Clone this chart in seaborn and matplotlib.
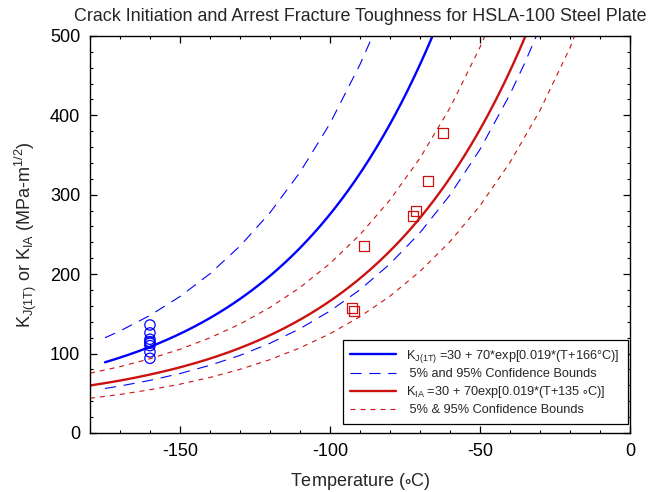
import numpy as np
import pandas as pd
import matplotlib
matplotlib.use("Agg")
import matplotlib.pyplot as plt
from matplotlib.ticker import MultipleLocator
import seaborn as sns

# Fitted toughness curves: K = A + B*exp[C*(T - T0)]
curve_a = 30
curve_b = 70
curve_c = 0.019
t0_initiation = -166   # K_J(1T)
t0_arrest = -135       # K_IA

# Initiation toughness results, K_J(1T), all at -160 C
kj_temp = [-160, -160, -160, -160, -160, -160, -160, -160]
kj_values = [136, 126, 118, 115, 113, 110, 102, 94]

# Arrest toughness results, K_IA
kia_temp = [-62.3, -67.4, -71.4, -72.3, -88.6, -92.6, -91.9]
kia_values = [377.5, 317, 279.6, 273.3, 235.5, 157, 154]

# 5% / 95% confidence bounds on the initiation curve
kj_upper_temp = [-175, -170, -160, -150, -140, -130, -120, -110, -100, -90, -85]
kj_upper = [119.9, 128.4, 148.0, 171.8, 200.5, 235.3, 277.3, 328.1, 389.5, 463.8, 506.5]
kj_lower_temp = [-175, -170, -160, -150, -140, -130, -120, -110, -100, -90, -80,
                 -70, -60, -50, -40, -35, -30]
kj_lower = [56.0, 59.1, 66.2, 74.8, 85.2, 97.7, 112.9, 131.3, 153.5, 180.3, 212.8,
            252.0, 299.5, 356.8, 426.2, 466.2, 510.2]

# 5% / 95% confidence bounds on the arrest curve
kia_upper_temp = [-180, -170, -160, -150, -140, -130, -120, -110, -100, -90, -80,
                  -70, -60, -50, -45]
kia_upper = [75.2, 83.5, 93.4, 105.4, 119.8, 137.1, 158.0, 183.1, 213.3, 249.6, 293.3,
             345.9, 409.2, 485.4, 529.1]
kia_lower_temp = [-180, -170, -160, -150, -140, -130, -120, -110, -100, -90, -80,
                  -70, -60, -50, -40, -30, -20, -10]
kia_lower = [43.7, 48.5, 54.4, 61.4, 69.9, 80.1, 92.3, 107.1, 124.9, 146.4, 172.2,
             203.4, 240.8, 286.0, 340.4, 405.9, 484.7, 579.8]

# Axis ticks and legend text
x_ticks = [-150, -100, -50, 0]
y_ticks = [0, 100, 200, 300, 400, 500]
legend_labels = [
    r"K$_{J(1T)}$ =30 + 70*exp[0.019*(T+166°C)]",
    " 5% and 95% Confidence Bounds",
    r"K$_{IA}$ =30 + 70exp[0.019*(T+135 $\circ$C)]",
    " 5% & 95% Confidence Bounds",
]

sns.set_style("ticks")
plt.rcParams["font.family"] = ["Liberation Sans", "DejaVu Sans"]
plt.rcParams["mathtext.default"] = "regular"
plt.rcParams["mathtext.fontset"] = "custom"
plt.rcParams["mathtext.rm"] = "Liberation Sans"
plt.rcParams["axes.unicode_minus"] = False

BLUE = "#0000ff"
RED = "#cc1111"

fig = plt.figure(figsize=(6.52, 4.92), dpi=100)
ax = fig.add_axes([0.138, 0.120, 0.828, 0.807])

# Median curves evaluated from the stated equation
t_init = np.linspace(-175, -60, 300)
k_init = curve_a + curve_b * np.exp(curve_c * (t_init - t0_initiation))
t_arr = np.linspace(-180, -30, 300)
k_arr = curve_a + curve_b * np.exp(curve_c * (t_arr - t0_arrest))

dash_long = (0, (10, 7))
dash_short = (0, (4.5, 4.5))

sns.lineplot(x=t_init, y=k_init, color=BLUE, lw=1.7, ax=ax)
h_kj = ax.lines[-1]
sns.lineplot(x=kj_upper_temp, y=kj_upper, color=BLUE, lw=0.8, linestyle=dash_long, ax=ax)
h_kj_b = ax.lines[-1]
sns.lineplot(x=kj_lower_temp, y=kj_lower, color=BLUE, lw=0.8, linestyle=dash_long, ax=ax)

sns.lineplot(x=t_arr, y=k_arr, color=RED, lw=1.7, ax=ax)
h_kia = ax.lines[-1]
sns.lineplot(x=kia_upper_temp, y=kia_upper, color=RED, lw=0.8, linestyle=dash_short, ax=ax)
h_kia_b = ax.lines[-1]
sns.lineplot(x=kia_lower_temp, y=kia_lower, color=RED, lw=0.8, linestyle=dash_short, ax=ax)

# Test data
sns.scatterplot(x=kj_temp, y=kj_values, marker="o", s=55, facecolor="none",
                edgecolor=BLUE, linewidth=0.9, ax=ax)
sns.scatterplot(x=kia_temp, y=kia_values, marker="s", s=55, facecolor="none",
                edgecolor=RED, linewidth=0.9, ax=ax)

ax.set_xlim(-180, 0)
ax.set_ylim(0, 500)
ax.set_xticks(x_ticks)
ax.set_yticks(y_ticks)
ax.xaxis.set_minor_locator(MultipleLocator(10))
ax.yaxis.set_minor_locator(MultipleLocator(20))
ax.tick_params(which="both", direction="in", top=True, right=True, colors="black",
               labelsize=13, pad=7)
ax.tick_params(which="major", length=5, width=0.9)
ax.tick_params(which="minor", length=2.5, width=0.8)
for sp in ax.spines.values():
    sp.set_visible(True)
    sp.set_color("black")
    sp.set_linewidth(1.0)

ax.set_title("Crack Initiation and Arrest Fracture Toughness for HSLA-100 Steel Plate",
             fontsize=12.9, pad=11)
ax.set_xlabel(r"Temperature ($\circ$C)", fontsize=13, labelpad=8)
ax.set_ylabel(r"K$_{J(1T)}$ or K$_{IA}$ (MPa-m$^{1/2}$)", fontsize=13, labelpad=8)

leg = ax.legend(
    [h_kj, h_kj_b, h_kia, h_kia_b], legend_labels,
    loc="lower right", bbox_to_anchor=(0.996, 0.023), borderaxespad=0, fontsize=9.2,
    frameon=True, fancybox=False, edgecolor="black", framealpha=1,
    handlelength=3.6, handletextpad=0.8, labelspacing=0.3, borderpad=0.6,
)
leg.get_frame().set_linewidth(0.9)

fig.savefig("out.png", dpi=100)
